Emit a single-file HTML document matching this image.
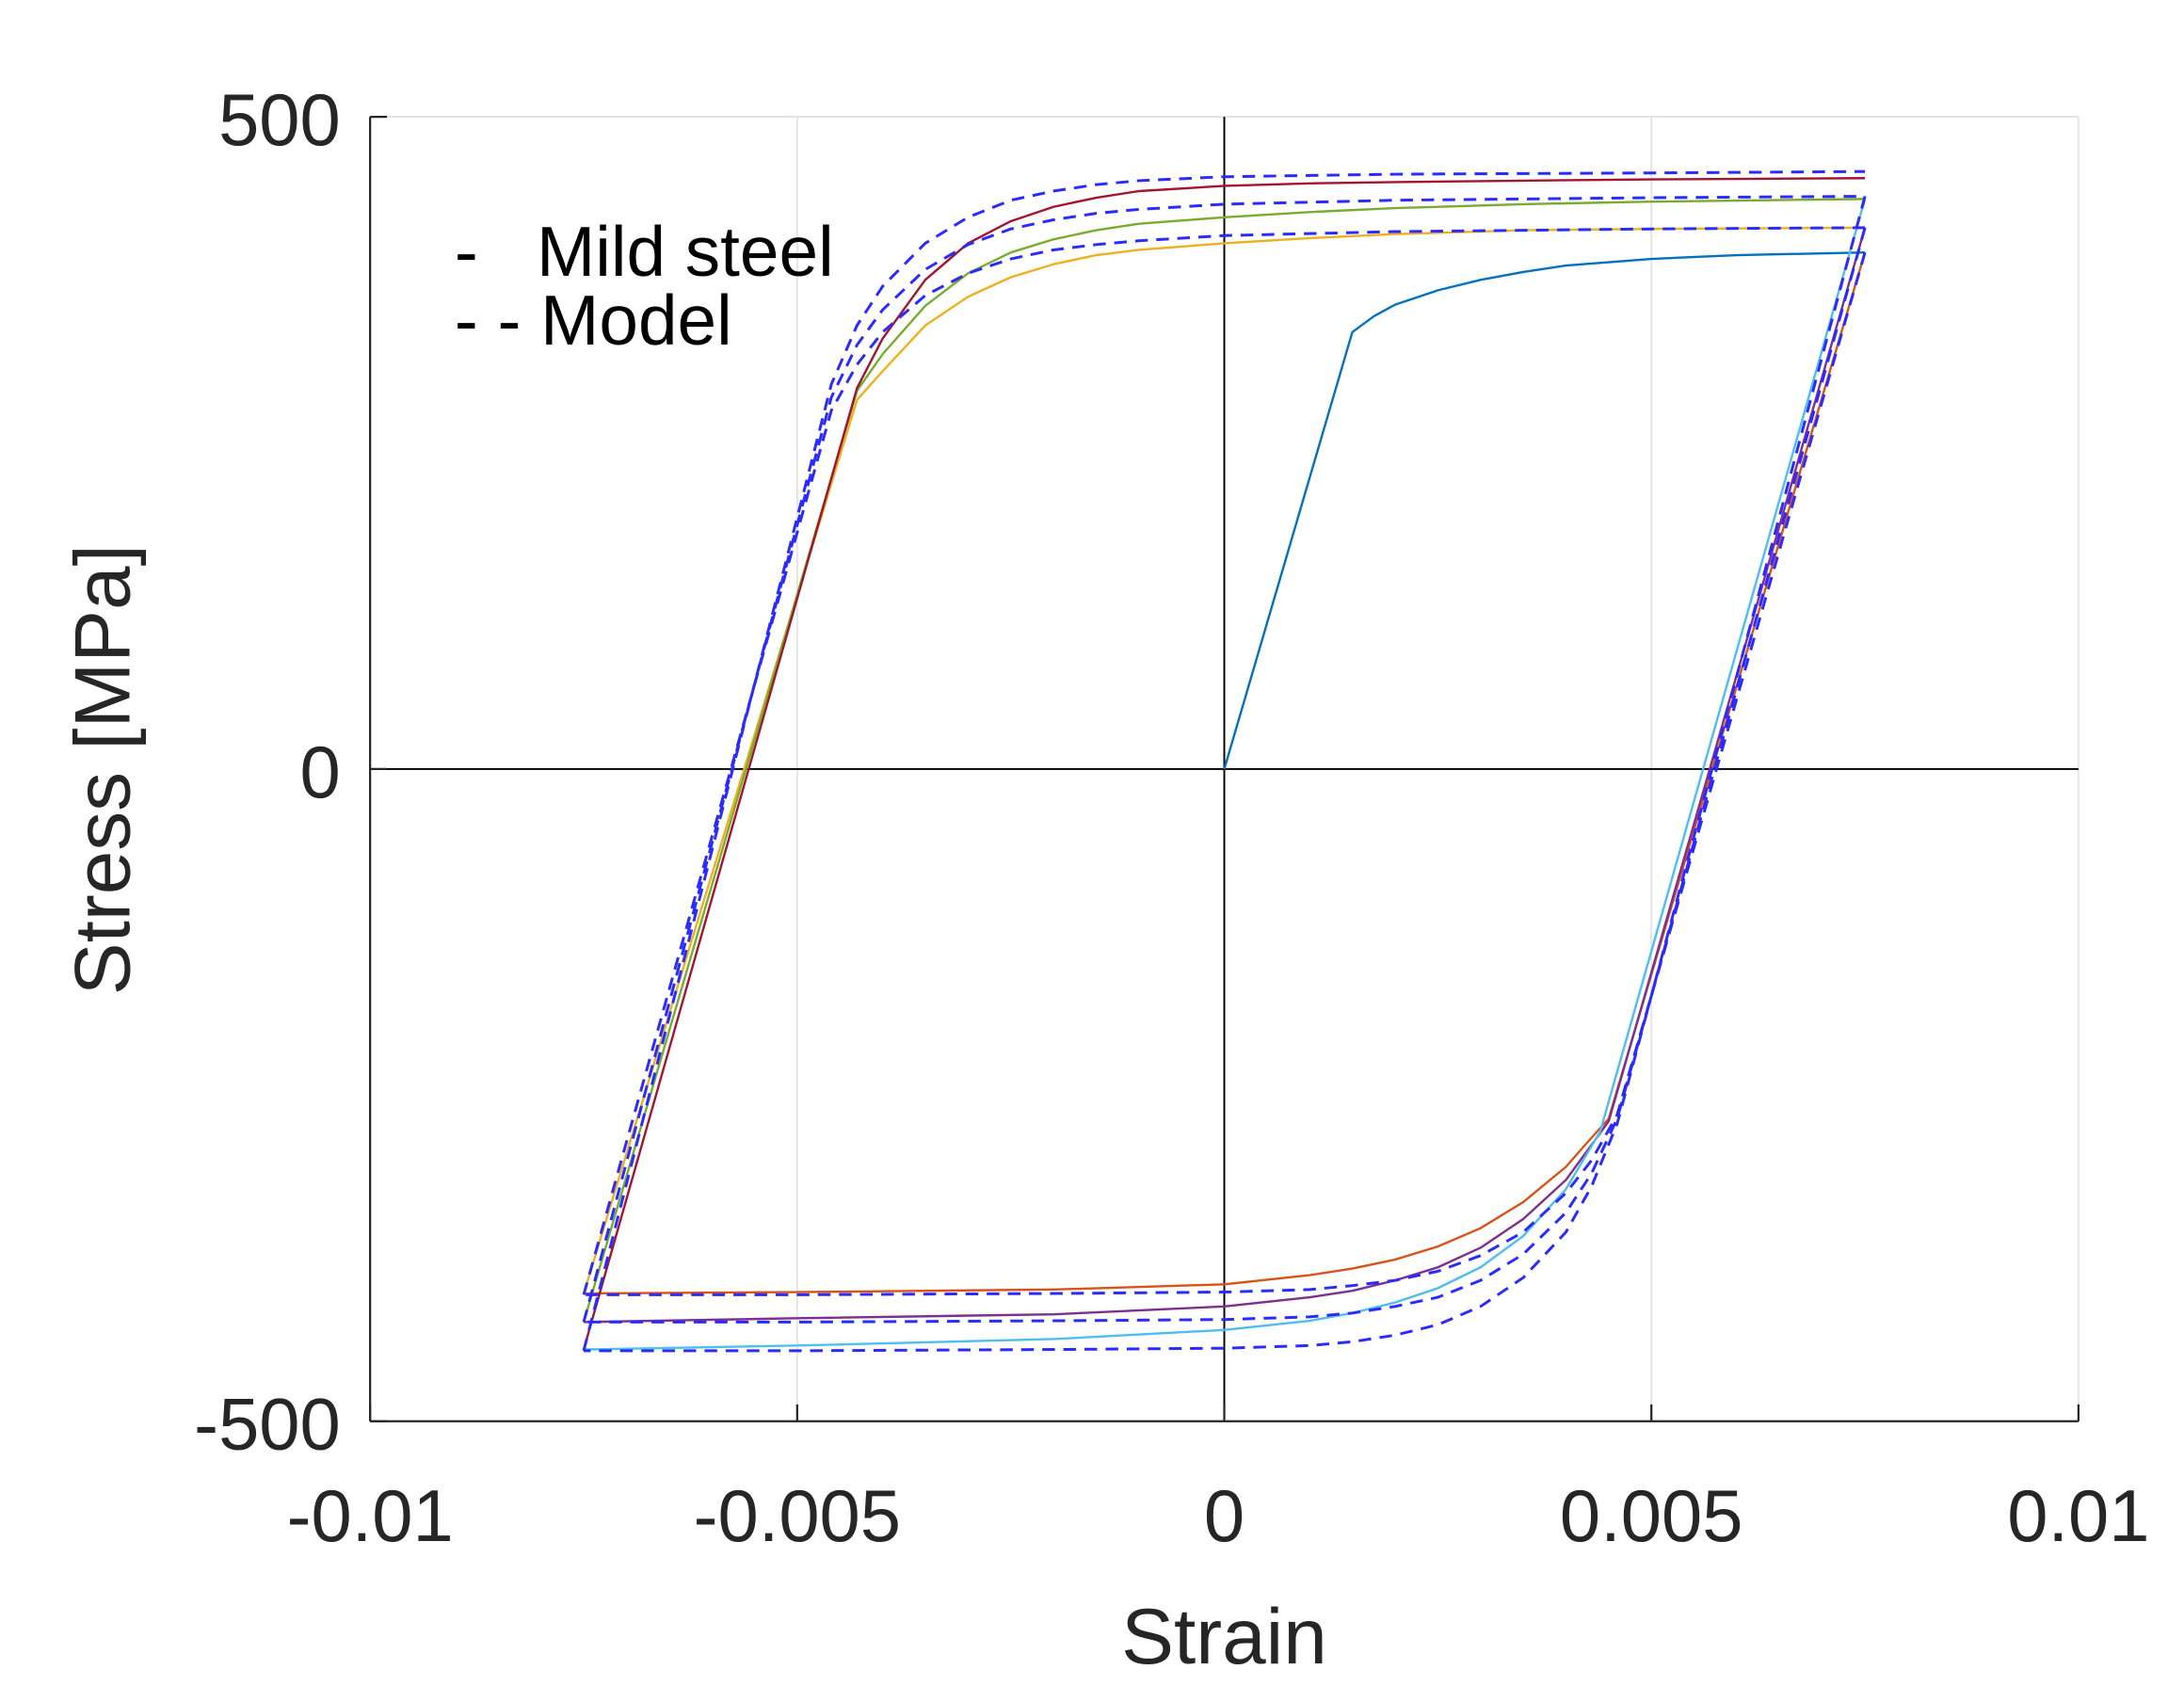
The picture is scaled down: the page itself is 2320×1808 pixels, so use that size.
<!DOCTYPE html>
<html><head><meta charset="utf-8"><style>
html,body{margin:0;padding:0;background:#fff;}
svg{display:block;}
text{font-family:"Liberation Sans",Arial,sans-serif;fill:#262626;}
</style></head><body>
<svg id="chart" width="2320" height="1808" viewBox="0 0 1552 1209.5" xmlns="http://www.w3.org/2000/svg">
<g id="grid"></g>
<g id="series"></g>
<g id="axes"></g>
<text x="870" y="1182" font-size="56" text-anchor="middle">Strain</text>
<text transform="translate(92,547) rotate(-90)" font-size="56" text-anchor="middle">Stress [MPa]</text>
<g>
<text x="323" y="196" font-size="50" style="fill:#000">-&#160;&#160;&#160;Mild steel</text>
<text x="323" y="245" font-size="50" style="fill:#000">- - Model</text>
</g>
</svg>
<script>
const xTicks=[-0.01,-0.005,0,0.005,0.01];
const xTickLabels=["-0.01","-0.005","0","0.005","0.01"];
const yTicks=[-500,0,500];
const yTickLabels=["-500","0","500"];
const expColors=["#0072BD","#D95319","#EDB120","#7E2F8E","#77AC30","#4DBEEE","#A2142F"];
const expStrain=[
 [0,0.0015,0.00175,0.002,0.0025,0.003,0.0035,0.004,0.005,0.006,0.0075],
 [0.0075,0.0045,0.0042,0.004,0.0035,0.003,0.0025,0.002,0.0015,0.001,0,-0.002,-0.005,-0.0075],
 [-0.0075,-0.0043,-0.004,-0.0035,-0.003,-0.0025,-0.002,-0.0015,-0.001,0,0.001,0.002,0.0035,0.005,0.0075],
 [0.0075,0.0045,0.004,0.0035,0.003,0.0025,0.002,0.0015,0.001,0,-0.002,-0.005,-0.0075],
 [-0.0075,-0.0043,-0.004,-0.0035,-0.003,-0.0025,-0.002,-0.0015,-0.001,0,0.001,0.002,0.0035,0.005,0.0075],
 [0.0075,0.0044,0.004,0.0035,0.003,0.0025,0.002,0.0015,0.001,0,-0.002,-0.005,-0.0075],
 [-0.0075,-0.0043,-0.004,-0.0035,-0.003,-0.0025,-0.002,-0.0015,-0.001,0,0.001,0.002,0.0035,0.005,0.0075]
];
const expStress=[
 [0,335,347,356,367,375,381,386,391,394,396],
 [396,-268,-290,-305,-332,-352,-366,-376,-383,-388,-395,-399,-401,-402],
 [-402,283,305,340,362,377,387,394,398,403,407,410,413,414,415],
 [415,-270,-315,-345,-367,-382,-392,-400,-405,-412,-418,-421,-424],
 [-424,290,318,355,380,396,406,413,418,423,427,430,433,435,437],
 [437,-278,-322,-358,-382,-398,-409,-417,-423,-430,-437,-442,-445],
 [-445,292,330,375,403,420,431,438,443,447,449,450,451,452,453]
];
const modStrain=[
 [0.0075,0.0046,0.0043,0.004,0.0035,0.003,0.0025,0.002,0.0015,0.001,0,-0.002,-0.005,-0.0075],
 [-0.0075,-0.0046,-0.0043,-0.004,-0.0035,-0.003,-0.0025,-0.002,-0.0015,-0.001,0,0.002,0.005,0.0075],
 [0.0075,0.0046,0.0043,0.004,0.0035,0.003,0.0025,0.002,0.0015,0.001,0,-0.002,-0.005,-0.0075],
 [-0.0075,-0.0046,-0.0043,-0.004,-0.0035,-0.003,-0.0025,-0.002,-0.0015,-0.001,0,0.002,0.005,0.0075],
 [0.0075,0.0046,0.0043,0.004,0.0035,0.003,0.0025,0.002,0.0015,0.001,0,-0.002,-0.005,-0.0075],
 [-0.0075,-0.0046,-0.0043,-0.004,-0.0035,-0.003,-0.0025,-0.002,-0.0015,-0.001,0,0.002,0.005,0.0075]
];
const modStress=[
 [396,-265,-300,-325,-355,-373,-385,-392,-396,-399,-401,-402,-403,-403],
 [-403,275,310,335,363,380,391,398,402,405,409,412,414,415],
 [415,-268,-310,-340,-372,-392,-405,-412,-417,-420,-422,-423,-424,-424],
 [-424,285,325,352,383,402,414,421,426,429,433,436,438,439],
 [439,-272,-320,-355,-390,-412,-426,-434,-439,-442,-444,-445,-446,-446],
 [-446,295,340,370,403,423,436,443,448,451,454,456,457,458]
];
const X0=263,X1=1477,Y0=83,Y1=1010;
function sx(v){return X0+(v+0.01)/0.02*(X1-X0);}
function sy(v){return Y1-(v+500)/1000*(Y1-Y0);}
const NS="http://www.w3.org/2000/svg";
function mk(tag,attrs,parent){const e=document.createElementNS(NS,tag);for(const k in attrs)e.setAttribute(k,attrs[k]);parent.appendChild(e);return e;}
const grid=document.getElementById('grid'),axes=document.getElementById('axes'),ser=document.getElementById('series');
xTicks.forEach((t,i)=>{
 if(t!==0&&t!==-0.01){const g=mk('line',{x1:sx(t),x2:sx(t),y1:Y0,y2:Y1,stroke:'#e3e3e3','stroke-width':1.2},grid);
 
 }
 const tk=mk('line',{x1:sx(t),x2:sx(t),y1:Y1,y2:Y1-12,stroke:'#262626','stroke-width':1.5},axes);
 
 
 const lb=mk('text',{x:sx(t),y:1095,'font-size':52,'text-anchor':'middle'},axes);
 lb.textContent=xTickLabels[i];
 
 
});
yTicks.forEach((t,i)=>{
 if(t===500){const g=mk('line',{x1:X0,x2:X1,y1:sy(t),y2:sy(t),stroke:'#e3e3e3','stroke-width':1.2},grid);
 
 }
 const tk=mk('line',{x1:X0,x2:X0+12,y1:sy(t),y2:sy(t),stroke:'#262626','stroke-width':1.5},axes);
 
 
 const lb=mk('text',{x:242,y:sy(t)+20,'font-size':52,'text-anchor':'end'},axes);
 lb.textContent=yTickLabels[i];
 
 
});
let a=mk('line',{x1:X0,x2:X0,y1:Y0,y2:Y1,stroke:'#262626','stroke-width':1.5},axes);


a=mk('line',{x1:X0,x2:X1,y1:Y1,y2:Y1,stroke:'#262626','stroke-width':1.5},axes);


a=mk('line',{x1:sx(0),x2:sx(0),y1:Y0,y2:Y1,stroke:'#000','stroke-width':1.3},grid);


a=mk('line',{x1:X0,x2:X1,y1:sy(0),y2:sy(0),stroke:'#000','stroke-width':1.3},grid);


function pathD(xs,ys){return xs.map((v,i)=>(i?'L':'M')+sx(v).toFixed(1)+' '+sy(ys[i]).toFixed(1)).join(' ');}
expStrain.forEach((xs,i)=>{
 const p=mk('path',{d:pathD(xs,expStress[i]),fill:'none',stroke:expColors[i],'stroke-width':1.6,'stroke-linejoin':'round'},ser);
 
 
});
modStrain.forEach((xs,i)=>{
 const p=mk('path',{d:pathD(xs,modStress[i]),fill:'none',stroke:'#2b2bff','stroke-width':2,'stroke-dasharray':'9 6','stroke-linejoin':'round'},ser);
 
 
});
</script>
</body></html>
